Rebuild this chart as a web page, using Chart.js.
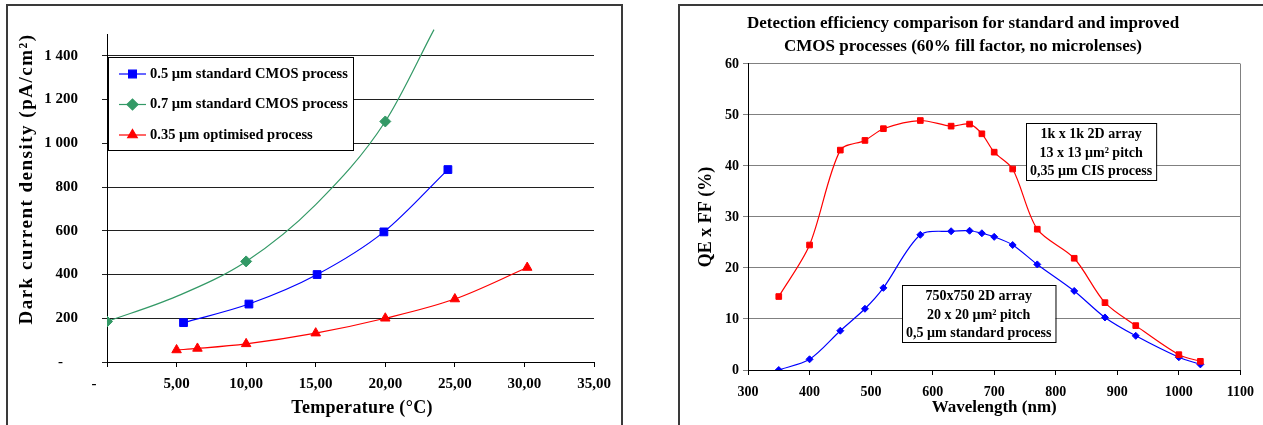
<!DOCTYPE html>
<html>
<head>
<meta charset="utf-8">
<script src="https://cdn.jsdelivr.net/npm/chart.js@4.4.1/dist/chart.umd.min.js"></script>
<style>
  html, body { margin: 0; padding: 0; background: #fff; }
  body { position: relative; width: 1263px; height: 425px; overflow: hidden; }
  .frame { position: absolute; border: 2px solid #3a3a3a; box-sizing: border-box; }
  #frameLeft { left: 6px; top: 4px; width: 617px; height: 460px; }
  #frameRight { left: 678px; top: 4px; width: 640px; height: 460px; }
  canvas { position: absolute; top: 0; }
  #darkChart { left: 0; }
  #qeChart { left: 679px; }
</style>
</head>
<body>
<div class="frame" id="frameLeft"></div>
<div class="frame" id="frameRight"></div>
<canvas id="darkChart" width="630" height="425"></canvas>
<canvas id="qeChart" width="584" height="425"></canvas>
<script>
// left chart: dark current density (pA/cm2) vs temperature (C)
const tempTicks = [0, 5, 10, 15, 20, 25, 30, 35];
const darkTicks = [0, 200, 400, 600, 800, 1000, 1200, 1400];

const tempBlue = [5.5, 10.2, 15.1, 19.9, 24.5];
const darkBlue = [180, 265, 400, 595, 880];
const tempGreen = [0, 10, 20];
const darkGreen = [185, 460, 1100];
// unmarked points along the green fitted curve
const tempGreenFit = [0, 5, 10, 15, 20, 23.5];
const darkGreenFit = [185, 300, 460, 720, 1100, 1520];
const tempRed = [5, 6.5, 10, 15, 20, 25, 30.2];
const darkRed = [55, 62, 83, 132, 200, 288, 432];

// right chart: QE x FF (%) vs wavelength (nm)
const waveTicks = [300, 400, 500, 600, 700, 800, 900, 1000, 1100];
const qeTicks = [0, 10, 20, 30, 40, 50, 60];
const wavelengths = [350, 400, 450, 490, 520, 580, 630, 660, 680, 700, 730, 770, 830, 880, 930, 1000, 1035];
const qeCis = [14.4, 24.5, 43.1, 45.0, 47.3, 48.9, 47.8, 48.2, 46.3, 42.7, 39.4, 27.6, 21.9, 13.2, 8.7, 3.0, 1.7];
const qeStandard = [0, 2.1, 7.7, 12.0, 16.1, 26.5, 27.2, 27.3, 26.8, 26.1, 24.5, 20.7, 15.5, 10.3, 6.7, 2.5, 1.1];

const SERIF = '"Liberation Serif", "Times New Roman", serif';
const BLUE = '#0000ff';
const GREEN = '#339966';
const RED = '#ff0000';

function zip(xs, ys) {
    return xs.map((x, i) => ({ x: x, y: ys[i] }));
}

function thousands(v) {
    return String(v).replace(/\B(?=(\d{3})+(?!\d))/g, ' ');
}

// free text (axis titles) drawn at fixed spots
const freeText = {
    id: 'freeText',
    afterDraw(chart, args, opts) {
        const ctx = chart.ctx;
        opts.items.forEach(t => {
            ctx.save();
            ctx.translate(t.x, t.y);
            if (t.rotate) ctx.rotate(t.rotate);
            ctx.font = t.font;
            if ('letterSpacing' in ctx) ctx.letterSpacing = t.spacing || '0px';
            ctx.fillStyle = '#000';
            ctx.textAlign = 'center';
            ctx.textBaseline = 'middle';
            ctx.fillText(t.text, 0, 0);
            ctx.restore();
        });
    }
};

// boxed legend inside the plot of the left chart
const legendBox = {
    id: 'legendBox',
    afterDatasetsDraw(chart) {
        const { ctx, chartArea, scales } = chart;
        const left = chartArea.left + 1;
        const top = Math.round(scales.y.getPixelForValue(darkTicks[darkTicks.length - 1])) + 1;
        const items = chart.data.datasets.filter(ds => ds.inLegend !== false);
        const w = 245, h = 93, rowH = 30.5;
        ctx.save();
        ctx.fillStyle = '#fff';
        ctx.fillRect(left, top, w, h);
        ctx.strokeStyle = '#000';
        ctx.lineWidth = 1;
        ctx.strokeRect(left + 0.5, top + 0.5, w, h);
        ctx.font = 'bold 14.5px ' + SERIF;
        ctx.textBaseline = 'middle';
        items.forEach((ds, i) => {
            const yy = top + 17 + i * rowH;
            ctx.strokeStyle = ds.borderColor;
            ctx.lineWidth = 1.2;
            ctx.beginPath();
            ctx.moveTo(left + 11, yy);
            ctx.lineTo(left + 38, yy);
            ctx.stroke();
            ctx.fillStyle = ds.backgroundColor;
            Chart.helpers.drawPoint(ctx, { pointStyle: ds.pointStyle, radius: ds.pointRadius, borderWidth: 1, rotation: 0 }, left + 24.5, yy);
            ctx.fillStyle = '#000';
            ctx.fillText(ds.label, left + 42, yy);
        });
        ctx.restore();
    }
};

// text boxes placed in data space on the right chart
const notes = {
    id: 'notes',
    afterDatasetsDraw(chart, args, opts) {
        const { ctx, scales } = chart;
        ctx.save();
        ctx.font = 'bold 14px ' + SERIF;
        opts.items.forEach(n => {
            const left = Math.round(scales.x.getPixelForValue(n.x));
            const top = Math.round(scales.y.getPixelForValue(n.y));
            const w = Math.max(...n.lines.map(l => ctx.measureText(l).width)) + 8;
            const h = 57;
            ctx.fillStyle = '#fff';
            ctx.fillRect(left, top, w, h);
            ctx.strokeStyle = '#000';
            ctx.lineWidth = 1;
            ctx.strokeRect(left + 0.5, top + 0.5, w, h);
            ctx.fillStyle = '#000';
            ctx.textAlign = 'center';
            ctx.textBaseline = 'middle';
            [11, 30, 48].forEach((dy, i) => ctx.fillText(n.lines[i], left + w / 2, top + dy));
        });
        ctx.restore();
    }
};

// grey right edge of the plot area
const plotEdge = {
    id: 'plotEdge',
    beforeDatasetsDraw(chart) {
        const { ctx, chartArea } = chart;
        const x = Math.round(chartArea.right) + 0.5;
        ctx.save();
        ctx.strokeStyle = '#808080';
        ctx.lineWidth = 1;
        ctx.beginPath();
        ctx.moveTo(x, chartArea.top);
        ctx.lineTo(x, chartArea.bottom);
        ctx.stroke();
        ctx.restore();
    }
};

const tickFont = { family: SERIF, size: 15, weight: 'bold' };

new Chart(document.getElementById('darkChart'), {
    type: 'scatter',
    data: {
        datasets: [
            {
                label: '0.5 µm standard CMOS process',
                data: zip(tempBlue, darkBlue),
                showLine: true,
                borderColor: BLUE, backgroundColor: BLUE,
                borderWidth: 1.2,
                pointStyle: 'rect', pointRadius: 5.5, pointBorderWidth: 1,
                cubicInterpolationMode: 'monotone'
            },
            {
                label: '0.7 µm standard CMOS process',
                data: zip(tempGreen, darkGreen),
                showLine: false,
                borderColor: GREEN, backgroundColor: GREEN,
                borderWidth: 1.2,
                pointStyle: 'rectRot', pointRadius: 5.5, pointBorderWidth: 1
            },
            {
                label: '0.35 µm optimised process',
                data: zip(tempRed, darkRed),
                showLine: true,
                borderColor: RED, backgroundColor: RED,
                borderWidth: 1.2,
                pointStyle: 'triangle', pointRadius: 5.5, pointBorderWidth: 1,
                cubicInterpolationMode: 'monotone'
            },
            {
                label: 'green fit',
                inLegend: false,
                data: zip(tempGreenFit, darkGreenFit),
                showLine: true,
                borderColor: GREEN, backgroundColor: GREEN,
                borderWidth: 1.2,
                pointRadius: 0,
                cubicInterpolationMode: 'monotone',
                clip: false
            }
        ]
    },
    options: {
        responsive: false,
        animation: false,
        events: [],
        layout: { padding: { top: 34, right: 36, bottom: 0, left: 0 } },
        plugins: {
            legend: { display: false },
            tooltip: { enabled: false },
            freeText: {
                items: [
                    { text: 'Dark current density (pA/cm²)', x: 27, y: 179, rotate: -Math.PI / 2, font: 'bold 19px ' + SERIF, spacing: '1.5px' },
                    { text: 'Temperature (°C)', x: 362, y: 408, font: 'bold 18px ' + SERIF, spacing: '0.3px' }
                ]
            }
        },
        scales: {
            x: {
                type: 'linear',
                min: 0, max: 35,
                afterBuildTicks: axis => { axis.ticks = tempTicks.map(v => ({ value: v })); },
                afterFit: axis => { axis.height = 63; },
                grid: { drawOnChartArea: false, color: '#000', tickLength: 5 },
                border: { color: '#000', width: 1 },
                ticks: {
                    font: tickFont, color: '#000', padding: 8, maxRotation: 0, autoSkip: false,
                    callback: v => v === 0 ? '-       ' : v.toFixed(2).replace('.', ',')
                }
            },
            y: {
                type: 'linear',
                min: 0, max: 1500,
                afterBuildTicks: axis => { axis.ticks = darkTicks.map(v => ({ value: v })); },
                afterFit: axis => { axis.width = 107; },
                grid: { color: '#202020', tickLength: 5 },
                border: { color: '#000', width: 1 },
                ticks: {
                    font: tickFont, color: '#000', padding: 24, autoSkip: false,
                    callback: v => v === 0 ? '-    ' : thousands(v)
                }
            }
        }
    },
    plugins: [legendBox, freeText]
});

const qeFont = { family: SERIF, size: 14, weight: 'bold' };

new Chart(document.getElementById('qeChart'), {
    type: 'scatter',
    data: {
        datasets: [
            {
                label: '1k x 1k 2D array, 0,35 µm CIS process',
                data: zip(wavelengths, qeCis),
                showLine: true,
                borderColor: RED, backgroundColor: RED,
                borderWidth: 1.2,
                pointStyle: 'rect', pointRadius: 4, pointBorderWidth: 1,
                tension: 0.3
            },
            {
                label: '750x750 2D array, 0,5 µm standard process',
                data: zip(wavelengths, qeStandard),
                showLine: true,
                borderColor: BLUE, backgroundColor: BLUE,
                borderWidth: 1.2,
                pointStyle: 'rectRot', pointRadius: 3.5, pointBorderWidth: 1,
                tension: 0.3
            }
        ]
    },
    options: {
        responsive: false,
        animation: false,
        events: [],
        layout: { padding: { top: 1, right: 16, bottom: 0, left: 0 } },
        plugins: {
            legend: { display: false },
            tooltip: { enabled: false },
            title: {
                display: true,
                text: ['Detection efficiency comparison for standard and improved',
                       'CMOS processes (60% fill factor, no microlenses)'],
                color: '#000',
                font: { family: SERIF, size: 17, weight: 'bold', lineHeight: 1.35 },
                padding: { top: 11, bottom: 6 }
            },
            notes: {
                items: [
                    { x: 752, y: 48.4, lines: ['1k x 1k 2D array', '13 x 13 µm² pitch', '0,35 µm CIS process'] },
                    { x: 550, y: 16.7, lines: ['750x750 2D array', '20 x 20 µm² pitch', '0,5 µm standard process'] }
                ]
            }
        },
        scales: {
            x: {
                type: 'linear',
                min: 300, max: 1100,
                afterBuildTicks: axis => { axis.ticks = waveTicks.map(v => ({ value: v })); },
                afterFit: axis => { axis.height = 55; },
                grid: { drawOnChartArea: false, color: '#000', tickLength: 5 },
                border: { color: '#000', width: 1 },
                ticks: {
                    font: qeFont, color: '#000', padding: 9, maxRotation: 0, autoSkip: false,
                    callback: v => String(v)
                },
                title: {
                    display: true, text: 'Wavelength (nm)', color: '#000',
                    font: { family: SERIF, size: 17, weight: 'bold' },
                    padding: { top: 0, bottom: 7 }
                }
            },
            y: {
                type: 'linear',
                min: 0, max: 60,
                afterBuildTicks: axis => { axis.ticks = qeTicks.map(v => ({ value: v })); },
                afterFit: axis => { axis.width = 69; },
                grid: { color: '#808080', tickLength: 5 },
                border: { color: '#000', width: 1 },
                ticks: { font: qeFont, color: '#000', padding: 4, autoSkip: false },
                title: {
                    display: true, text: 'QE x FF (%)', color: '#000',
                    font: { family: SERIF, size: 18, weight: 'bold' },
                    padding: { top: 17, bottom: 0 }
                }
            }
        }
    },
    plugins: [plotEdge, notes]
});
</script>
</body>
</html>
